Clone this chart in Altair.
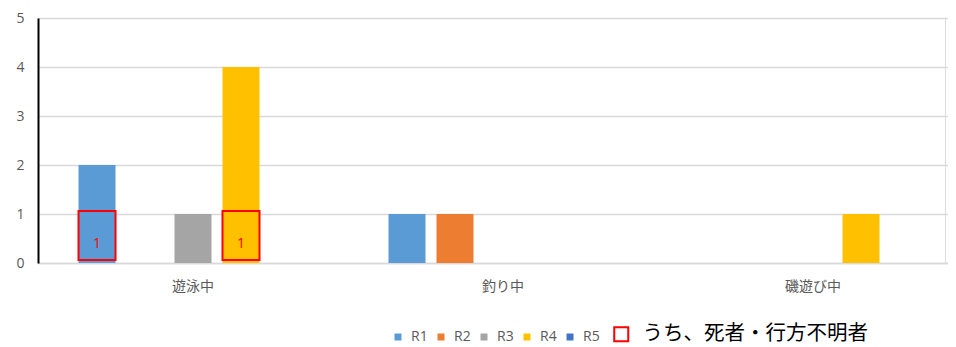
import altair as alt
import pandas as pd

categories = ["遊泳中", "釣り中", "磯遊び中"]
series = ["R1", "R2", "R3", "R4", "R5"]
colors = ["#5B9BD5", "#ED7D31", "#A5A5A5", "#FFC000", "#4472C4"]
r1 = [2, 1, 0]
r2 = [0, 1, 0]
r3 = [1, 0, 0]
r4 = [4, 0, 1]
r5 = [0, 0, 0]

death_cats = ["遊泳中", "遊泳中"]
death_series = ["R1", "R4"]
death_counts = [1, 1]
death_label = "うち、死者・行方不明者"

FONT = "Noto Sans CJK JP"
NUMFONT = "Open Sans"

rows = []
for s, vals in zip(series, [r1, r2, r3, r4, r5]):
    for c, v in zip(categories, vals):
        rows.append({"category": c, "series": s, "count": v})
df = pd.DataFrame(rows)

ddf = pd.DataFrame({
    "category": death_cats,
    "series": death_series,
    "deaths": death_counts,
    "label": [death_label] * len(death_cats),
})

xscale = alt.Scale(domain=categories, range=[0, 930], paddingInner=0, paddingOuter=0)
xoff_scale = alt.Scale(domain=series, paddingInner=0.229, paddingOuter=0.844)
yscale = alt.Scale(domain=[0, 5], nice=False)

x_enc = alt.X("category:N", scale=xscale, sort=categories, title=None,
              axis=alt.Axis(labelAngle=0, labelFontSize=14, labelColor="#595959",
                            labelFont=FONT, ticks=False, labelPadding=16,
                            domainColor="#d9d9d9", domainWidth=1.5, grid=False))
xo_enc = alt.XOffset("series:N", scale=xoff_scale, sort=series)
y_enc = alt.Y("count:Q", scale=yscale, title=None,
              axis=alt.Axis(values=[0, 1, 2, 3, 4, 5], labelFontSize=14, labelColor="#595959",
                            labelFont=NUMFONT, ticks=False, labelPadding=14,
                            domainColor="#000000", domainWidth=2,
                            gridColor="#d9d9d9", gridWidth=1.5))

bars = alt.Chart(df).mark_bar().encode(
    x=x_enc,
    xOffset=xo_enc,
    y=y_enc,
    fill=alt.Fill("series:N", scale=alt.Scale(domain=series, range=colors),
                  legend=alt.Legend(title=None, orient="none", direction="horizontal",
                                    legendX=353, legendY=312, symbolType="square",
                                    symbolSize=49, symbolStrokeWidth=0,
                                    labelFontSize=14, labelColor="#595959", labelFont=NUMFONT,
                                    labelOffset=6, columnPadding=6, padding=0)),
)

boxes = alt.Chart(ddf).mark_bar(filled=False, strokeWidth=2, yOffset=-3).encode(
    x=alt.X("category:N", scale=xscale, sort=categories),
    xOffset=alt.XOffset("series:N", scale=xoff_scale, sort=series),
    y=alt.Y("deaths:Q", scale=yscale),
    stroke=alt.Stroke("label:N", scale=alt.Scale(domain=[death_label], range=["#FF0000"]),
                      legend=alt.Legend(title=None, orient="none", legendX=573, legendY=306,
                                        symbolType="square", symbolSize=196,
                                        symbolStrokeWidth=2, symbolFillColor="transparent",
                                        labelFontSize=20.5, labelColor="#000000", labelFont=FONT,
                                        labelOffset=11, labelLimit=400, padding=0)),
)

labels = alt.Chart(ddf).mark_text(fill="#FF0000", fontSize=14, font=NUMFONT,
                                  baseline="middle", dy=-19).encode(
    x=alt.X("category:N", scale=xscale, sort=categories),
    xOffset=alt.XOffset("series:N", scale=xoff_scale, sort=series),
    y=alt.datum(0, scale=yscale),
    text=alt.Text("deaths:Q"),
)

chart = alt.layer(bars, boxes, labels).properties(
    width=907, height=245,
    autosize=alt.AutoSizeParams(type="none"),
    padding={"left": 30, "top": 10, "right": 3, "bottom": 84},
).configure_view(stroke=None).configure(background="white")

chart.save("out.html", embed_options={"renderer": "svg", "actions": False})
